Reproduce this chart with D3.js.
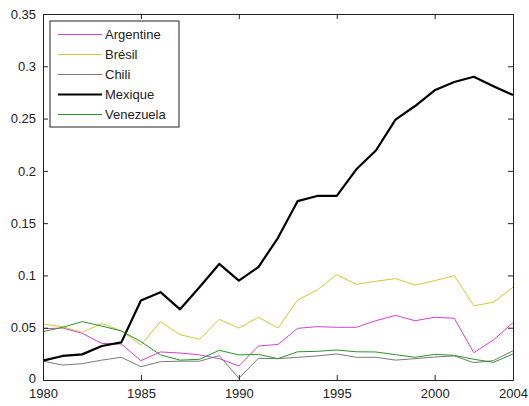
<!DOCTYPE html>
<html>
<head>
<meta charset="utf-8">
<script src="https://cdn.jsdelivr.net/npm/d3@7"></script>
<style>
  body { margin: 0; background: #fff; }
  svg { display: block; font-family: "Liberation Sans", Arial, sans-serif; }
</style>
</head>
<body>
<svg id="chart" width="529" height="406"></svg>
<script>
var years = d3.range(1980, 2005);
var countries = ["Argentine", "Brésil", "Chili", "Mexique", "Venezuela"];

var argentine = [0.049, 0.0497, 0.0446, 0.035, 0.0344, 0.0185, 0.0268, 0.0258, 0.024, 0.0204, 0.0134, 0.0325,
  0.034, 0.0494, 0.051, 0.0504, 0.0504, 0.0567, 0.0618, 0.0567, 0.060, 0.059, 0.0261, 0.0383, 0.0548];
var bresil = [0.0535, 0.051, 0.0456, 0.054, 0.047, 0.0335, 0.0558, 0.0433, 0.039, 0.058, 0.0497, 0.060,
  0.0497, 0.0765, 0.086, 0.1007, 0.0915, 0.0944, 0.097, 0.0908, 0.095, 0.0998, 0.071, 0.0743, 0.0887];
var chili = [0.018, 0.0143, 0.0156, 0.019, 0.0217, 0.0127, 0.0175, 0.018, 0.018, 0.0233, 0.0016, 0.0207,
  0.0204, 0.0217, 0.023, 0.0249, 0.0217, 0.0217, 0.019, 0.0204, 0.022, 0.023, 0.0166, 0.0185, 0.028];
var mexique = [0.0185, 0.023, 0.0245, 0.0325, 0.036, 0.076, 0.084, 0.0676, 0.089, 0.111, 0.095, 0.108,
  0.136, 0.171, 0.176, 0.176, 0.2015, 0.2195, 0.249, 0.262, 0.277, 0.285, 0.290, 0.281, 0.2725];
var venezuela = [0.0462, 0.0504, 0.0558, 0.0516, 0.0469, 0.0367, 0.024, 0.019, 0.0198, 0.0284, 0.024, 0.0245,
  0.0204, 0.027, 0.0274, 0.0287, 0.027, 0.0268, 0.0242, 0.0217, 0.0245, 0.0236, 0.0198, 0.0169, 0.0249];

var xTicks = [1980, 1985, 1990, 1995, 2000, 2004];
var yTicks = [0, 0.05, 0.1, 0.15, 0.2, 0.25, 0.3, 0.35];

var series = [
  {name: countries[0], values: argentine, color: "#d53fd5", width: 1},
  {name: countries[1], values: bresil, color: "#cccc33", width: 1},
  {name: countries[2], values: chili, color: "#7a7a7a", width: 1},
  {name: countries[3], values: mexique, color: "#000000", width: 2.2},
  {name: countries[4], values: venezuela, color: "#2a962a", width: 1}
];

var svg = d3.select("#chart"),
    margin = {top: 14, right: 16, bottom: 26, left: 43},
    width = +svg.attr("width") - margin.left - margin.right,
    height = +svg.attr("height") - margin.top - margin.bottom;

var x = d3.scaleLinear().domain([1980, 2004]).range([0, width]),
    y = d3.scaleLinear().domain([0, 0.35]).range([height, 0]);

var g = svg.append("g")
    .attr("transform", "translate(" + margin.left + "," + margin.top + ")");

var line = d3.line()
    .x(function(d, i) { return x(years[i]); })
    .y(function(d) { return y(d); });

g.selectAll(".series")
  .data(series)
  .enter().append("path")
    .attr("class", "series")
    .attr("fill", "none")
    .attr("stroke", function(d) { return d.color; })
    .attr("stroke-width", function(d) { return d.width; })
    .attr("stroke-linejoin", "round")
    .attr("d", function(d) { return line(d.values); });

// box with inward ticks on all four sides
function styleAxis(sel) {
  sel.selectAll(".domain").attr("stroke", "#222");
  sel.selectAll(".tick line").attr("stroke", "#222");
  sel.selectAll("text").attr("fill", "#222").style("font-size", "13px")
    .style("font-family", "'Liberation Sans', Arial, sans-serif");
}

g.append("g")
    .attr("transform", "translate(0," + height + ")")
    .call(d3.axisBottom(x).tickValues(xTicks).tickFormat(d3.format("d")).tickSizeInner(-5).tickSizeOuter(0).tickPadding(9))
    .call(styleAxis);

g.append("g")
    .call(d3.axisTop(x).tickValues(xTicks).tickFormat("").tickSizeInner(-5).tickSizeOuter(0))
    .call(styleAxis);

var yAxis = g.append("g")
    .call(d3.axisLeft(y).tickValues(yTicks).tickFormat(function(d) { return d === 0 ? "0" : d3.format("")(+d.toFixed(2)); })
      .tickSizeInner(-5).tickSizeOuter(0).tickPadding(7))
    .call(styleAxis);

// nudge the "0" label up so it clears "1980"
yAxis.selectAll(".tick text").filter(function(d) { return d === 0; }).attr("dy", "0.18em");

g.append("g")
    .attr("transform", "translate(" + width + ",0)")
    .call(d3.axisRight(y).tickValues(yTicks).tickFormat("").tickSizeInner(-5).tickSizeOuter(0))
    .call(styleAxis);

g.selectAll(".domain").attr("fill", "none");

// legend
var legend = g.append("g").attr("transform", "translate(7,7)");
legend.append("rect")
    .attr("width", 129).attr("height", 106)
    .attr("fill", "#fff").attr("stroke", "#222");

var item = legend.selectAll(".item")
  .data(series)
  .enter().append("g")
    .attr("class", "item")
    .attr("transform", function(d, i) { return "translate(0," + (13.5 + i * 20) + ")"; });

item.append("line")
    .attr("x1", 8).attr("x2", 52)
    .attr("stroke", function(d) { return d.color; })
    .attr("stroke-width", function(d) { return d.width; });

item.append("text")
    .attr("x", 55).attr("dy", "0.35em")
    .attr("fill", "#222")
    .style("font-size", "13px")
    .text(function(d) { return d.name; });
</script>
</body>
</html>
